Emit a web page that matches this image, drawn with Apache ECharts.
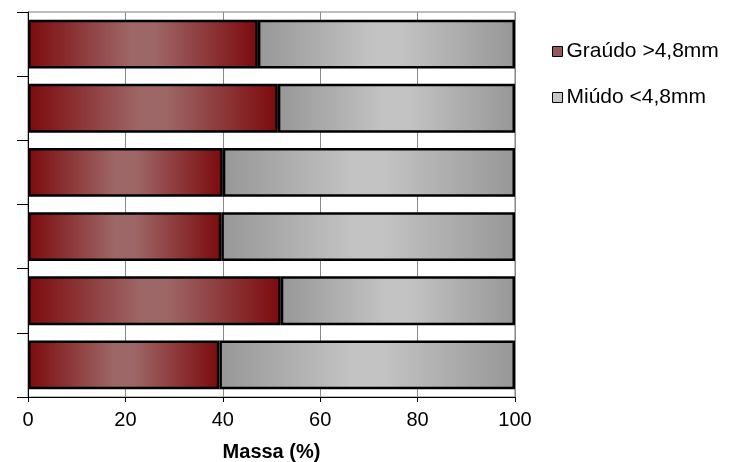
<!DOCTYPE html>
<html>
<head>
<meta charset="utf-8">
<script src="https://cdn.jsdelivr.net/npm/echarts@6/dist/echarts.min.js"></script>
<style>
  html, body { margin: 0; padding: 0; background: #fff; }
  #chart { width: 741px; height: 462px; }
</style>
</head>
<body>
<div id="chart"></div>
<script>
// Samples, top to bottom
const categories = ['1', '2', '3', '4', '5', '6'];
// Mass fraction (%) of each size class
const graudo = [47.2, 51.3, 40.0, 39.7, 51.9, 39.3];
const miudo = [52.8, 48.7, 60.0, 60.3, 48.1, 60.7];
const xTicks = { min: 0, max: 100, interval: 20 };

const FONT = '"Liberation Sans", Arial, sans-serif';

// Horizontal shading: dark at both ends, lighter in the middle
function shade(edge, mid) {
  return new echarts.graphic.LinearGradient(0, 0, 1, 0, [
    { offset: 0, color: edge },
    { offset: 0.45, color: mid },
    { offset: 0.55, color: mid },
    { offset: 1, color: edge }
  ]);
}

const chart = echarts.init(document.getElementById('chart'), null, { renderer: 'canvas' });
chart.setOption({
  animation: false,
  backgroundColor: '#ffffff',
  textStyle: { fontFamily: FONT, color: '#000' },
  grid: {
    left: 28, right: 226, top: 12, bottom: 65,
    outerBoundsMode: 'none',
    containLabel: false,
    show: true, borderColor: '#7a7a7a', borderWidth: 1, backgroundColor: 'transparent'
  },
  legend: {
    orient: 'vertical',
    left: 547, top: 36,
    itemWidth: 10, itemHeight: 10, itemGap: 25,
    icon: 'rect',
    textStyle: { fontFamily: FONT, fontSize: 21, color: '#000', padding: [0, 0, 0, -1] },
    data: [
      { name: 'Graúdo >4,8mm', itemStyle: { color: '#93585a', borderColor: '#000', borderWidth: 1 } },
      { name: 'Miúdo <4,8mm', itemStyle: { color: '#c6c6c6', borderColor: '#000', borderWidth: 1 } }
    ]
  },
  xAxis: {
    type: 'value',
    min: xTicks.min, max: xTicks.max, interval: xTicks.interval,
    name: 'Massa (%)',
    nameLocation: 'middle',
    nameGap: 45,
    nameTextStyle: { fontFamily: FONT, fontSize: 20, fontWeight: 'bold', color: '#000' },
    axisLine: { show: true, lineStyle: { color: '#000', width: 1 } },
    axisTick: { show: true, length: 5, lineStyle: { color: '#000' } },
    axisLabel: { fontFamily: FONT, fontSize: 20, color: '#000', margin: 13 },
    splitLine: { show: true, lineStyle: { color: '#8a8a8a', width: 1 } }
  },
  yAxis: {
    type: 'category',
    inverse: true,
    data: categories,
    axisLine: { show: true, lineStyle: { color: '#000', width: 1 } },
    axisTick: { show: true, length: 11, lineStyle: { color: '#000' } },
    axisLabel: { show: false },
    splitLine: { show: false }
  },
  series: [
    {
      name: 'Graúdo >4,8mm',
      type: 'bar',
      stack: 'massa',
      barCategoryGap: '24%',
      data: graudo,
      itemStyle: { color: shade('#7c0a0d', '#9e6767'), borderColor: '#000', borderWidth: 2.5 }
    },
    {
      name: 'Miúdo <4,8mm',
      type: 'bar',
      stack: 'massa',
      barCategoryGap: '24%',
      data: miudo,
      itemStyle: { color: shade('#979797', '#c3c3c3'), borderColor: '#000', borderWidth: 2.5 }
    }
  ]
});
</script>
</body>
</html>
